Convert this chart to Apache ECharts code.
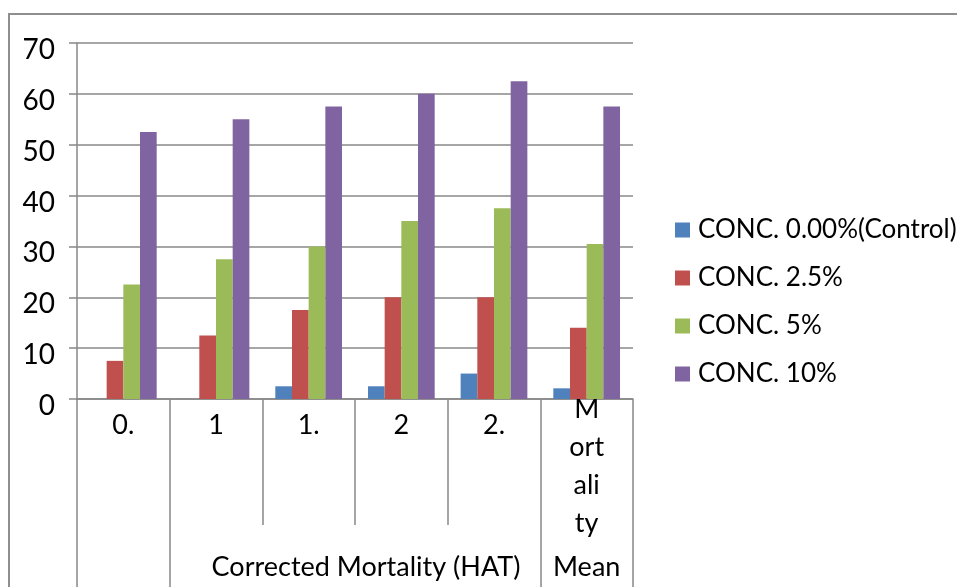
<!DOCTYPE html>
<html>
<head>
<meta charset="utf-8">
<script src="https://cdn.jsdelivr.net/npm/echarts@6/dist/echarts.min.js"></script>
<style>
  html, body { margin: 0; padding: 0; background: #fff; overflow: hidden; }
  #frame { position: absolute; left: 8px; top: 13px; width: 1100px; height: 800px; border: 2px solid #8f8f8f; }
  #main { position: absolute; left: 0; top: 0; width: 957px; height: 587px; }
</style>
</head>
<body>
<div id="frame"></div>
<div id="main"></div>
<script>
// category labels as they show on the axis (wrapped / cut off)
const categories = ['0.', '1', '1.', '2', '2.', 'M\nort\nali\nty']
const groupNames = ['', 'Corrected Mortality (HAT)', 'Mean']
const groupSpans = [1, 4, 1]

const seriesNames = ['CONC. 0.00%(Control)', 'CONC. 2.5%', 'CONC. 5%', 'CONC. 10%']
const control = [0, 0, 2.5, 2.5, 5, 2.1]
const conc25 = [7.5, 12.5, 17.5, 20, 20, 14]
const conc5 = [22.5, 27.5, 30, 35, 37.5, 30.5]
const conc10 = [52.5, 55, 57.5, 60, 62.5, 57.5]
const colors = ['#4F81BD', '#C0504D', '#9BBB59', '#8064A2']

const yTicks = [0, 10, 20, 30, 40, 50, 60, 70]

// group boundaries and centres on the second (group) axis
const bounds = [0]
const centres = []
groupSpans.forEach((s, i) => {
  centres.push(bounds[i] + s / 2)
  bounds.push(bounds[i] + s)
})

const gray = '#888888'
const font = 'Lato'

const chart = echarts.init(document.getElementById('main'))

chart.setOption({
  animation: false,
  textStyle: { fontFamily: font },
  color: colors,
  grid: { left: 77, right: 324, top: 43, bottom: 188, containLabel: false },
  legend: {
    orient: 'vertical',
    left: 675,
    top: 217,
    padding: 0,
    itemGap: 22,
    itemWidth: 15,
    itemHeight: 15,
    icon: 'rect',
    textStyle: { fontSize: 26, color: '#000', fontFamily: font, lineHeight: 24, padding: [0, 0, 0, 3] },
    data: seriesNames
  },
  xAxis: [
    {
      type: 'category',
      data: categories,
      axisLine: { show: true, lineStyle: { color: gray, width: 1.5 } },
      axisTick: { show: true, length: 126, lineStyle: { color: gray, width: 1.5 } },
      axisLabel: {
        interval: 0,
        margin: -9,
        color: '#000',
        formatter: v => v.indexOf('\n') >= 0
          ? v.split('\n').map(l => '{m|' + l + '}').join('\n')
          : '{a|' + v + '}',
        rich: {
          a: { fontSize: 27, fontFamily: font, lineHeight: 71, color: '#000' },
          m: { fontSize: 27, fontFamily: font, lineHeight: 38, color: '#000' }
        }
      }
    },
    {
      type: 'value',
      position: 'bottom',
      offset: 126,
      min: 0,
      max: bounds[bounds.length - 1],
      axisLine: { show: false },
      splitLine: { show: false },
      axisTick: { show: true, customValues: bounds, length: 62, lineStyle: { color: gray, width: 1.5 } },
      axisLabel: {
        customValues: centres.filter((c, i) => groupNames[i] !== ''),
        margin: 27,
        color: '#000',
        formatter: v => {
          const name = groupNames[centres.indexOf(v)]
          return groupSpans[centres.indexOf(v)] > 1 ? '{w|' + name + '}' : '{n|' + name + '}'
        },
        rich: {
          w: { fontSize: 27, fontFamily: font, lineHeight: 30, color: '#000', padding: [0, 0, 0, 22] },
          n: { fontSize: 27, fontFamily: font, lineHeight: 30, color: '#000' }
        }
      }
    }
  ],
  yAxis: {
    type: 'value',
    min: 0,
    max: 70,
    interval: 10,
    axisLine: { show: true, lineStyle: { color: gray, width: 1.5 } },
    axisTick: { show: true, length: 8, lineStyle: { color: gray, width: 1.5 } },
    splitLine: { show: true, lineStyle: { color: gray, width: 1.5 } },
    axisLabel: {
      margin: 22,
      fontSize: 28,
      color: '#000',
      verticalAlign: 'top',
      lineHeight: 14,
      formatter: v => yTicks.indexOf(v) >= 0 ? String(v) : ''
    }
  },
  series: [control, conc25, conc5, conc10].map((d, i) => ({
    name: seriesNames[i],
    type: 'bar',
    xAxisIndex: 0,
    data: d,
    barGap: '0%',
    barCategoryGap: '28%',
    itemStyle: { color: colors[i] }
  }))
})
</script>
</body>
</html>
